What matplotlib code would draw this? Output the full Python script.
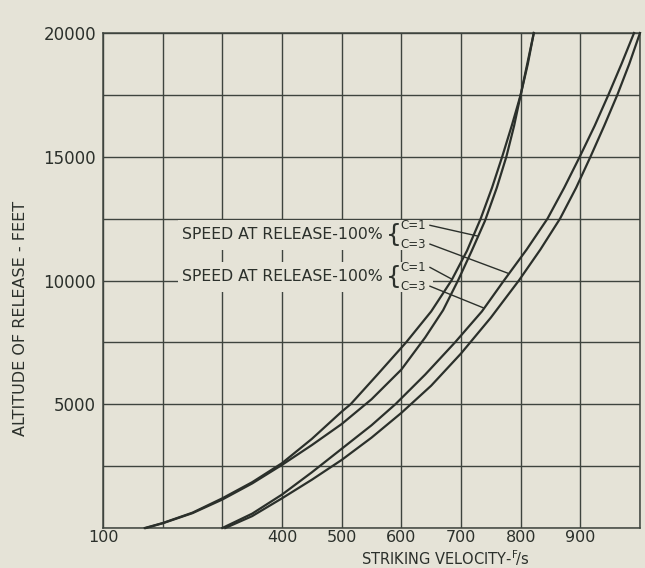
import matplotlib
matplotlib.use("Agg")
import matplotlib.pyplot as plt
from matplotlib.patches import Rectangle

# =========================
# Data
# =========================
grid_x = [100, 200, 300, 400, 500, 600, 700, 800, 900, 1000]
x_tick_labels = ["100", "", "", "400", "500", "600", "700", "800", "900", ""]
grid_y = [0, 2500, 5000, 7500, 10000, 12500, 15000, 17500, 20000]
y_tick_labels = ["", "", "5000", "", "10000", "", "15000", "", "20000"]

# left pair of curves
a1_vel = [170, 200, 250, 300, 350, 400, 450, 500, 515, 560, 608, 650, 684, 710, 733, 752, 769, 785, 800, 812, 822]
a1_alt = [0, 200, 620, 1200, 1850, 2620, 3600, 4700, 5000, 6200, 7500, 8750, 10000, 11200, 12500, 13750, 15000, 16250, 17500, 18750, 20000]
a2_vel = [172, 200, 250, 300, 350, 400, 450, 500, 550, 600, 640, 670, 695, 718, 740, 760, 776, 789, 800, 811, 822]
a2_alt = [0, 190, 600, 1150, 1800, 2550, 3350, 4200, 5200, 6400, 7700, 8800, 10000, 11200, 12400, 13750, 15000, 16250, 17500, 18750, 20000]

# right pair of curves
b1_vel = [300, 350, 400, 450, 500, 550, 590, 640, 690, 735, 772, 810, 845, 873, 899, 924, 947, 969, 990]
b1_alt = [0, 580, 1350, 2250, 3200, 4150, 5000, 6200, 7500, 8750, 10000, 11250, 12500, 13750, 15000, 16250, 17500, 18750, 20000]
b2_vel = [305, 350, 400, 450, 500, 550, 600, 650, 700, 750, 797, 833, 866, 893, 917, 940, 962, 982, 1000]
b2_alt = [0, 480, 1200, 1950, 2750, 3650, 4650, 5750, 7050, 8500, 10000, 11250, 12500, 13750, 15000, 16250, 17500, 18750, 20000]

label_text = "SPEED AT RELEASE-100%"

paper = "#e5e3d7"
ink = "#2b302b"
grid_ink = "#3e443e"

fig = plt.figure(figsize=(6.45, 5.68), dpi=100, facecolor=paper)
ax = fig.add_axes([103 / 645, 1 - 528 / 568, 537 / 645, 495 / 568], facecolor=paper)

ax.set_xlim(100, 1000)
ax.set_ylim(0, 20000)
ax.set_xticks(grid_x, labels=x_tick_labels)
ax.set_yticks(grid_y, labels=y_tick_labels)
ax.tick_params(length=0, labelsize=12, colors=ink)
ax.tick_params(axis="x", pad=1.5, labelsize=11.5)
ax.tick_params(axis="y", pad=5)
ax.grid(True, color=grid_ink, linewidth=1.0)
ax.set_axisbelow(True)
for s in ax.spines.values():
    s.set_color(grid_ink)
    s.set_linewidth(1.1)

# curves
for v, h in [(a1_vel, a1_alt), (a2_vel, a2_alt), (b1_vel, b1_alt), (b2_vel, b2_alt)]:
    ax.plot(v, h, color=ink, linewidth=1.6, zorder=3, clip_on=False)

# =========================
# Annotations
# =========================
for yc in [11850, 10150]:
    ax.add_patch(Rectangle((225, yc - 600), 428, 1200, facecolor=paper,
                           edgecolor="none", zorder=2.5))
    ax.text(232, yc, label_text, fontsize=11.3, color=ink, va="center", ha="left", zorder=4)
    ax.text(587, yc, "{", fontsize=18, color=ink, va="center", ha="center", zorder=4)
    ax.text(598, yc + 380, "C=1", fontsize=8.5, color=ink, va="center", ha="left", zorder=4)
    ax.text(598, yc - 380, "C=3", fontsize=8.5, color=ink, va="center", ha="left", zorder=4)

# leader lines from the C labels to their curves
ax.plot([648, 727], [12230, 11800], color=ink, linewidth=1.0, zorder=4)
ax.plot([648, 778], [11470, 10300], color=ink, linewidth=1.0, zorder=4)
ax.plot([648, 685], [10530, 10050], color=ink, linewidth=1.0, zorder=4)
ax.plot([648, 737], [9770, 8900], color=ink, linewidth=1.0, zorder=4)

ax.set_ylabel("ALTITUDE OF RELEASE - FEET", fontsize=11.5, color=ink)
ax.yaxis.set_label_coords(-0.14, 0.424)
ax.set_xlabel(r"STRIKING VELOCITY-$\mathregular{^F\!/s}$", fontsize=10.5, color=ink)
ax.xaxis.set_label_coords(0.637, -0.04)

fig.savefig("out.png", dpi=100, facecolor=paper)
